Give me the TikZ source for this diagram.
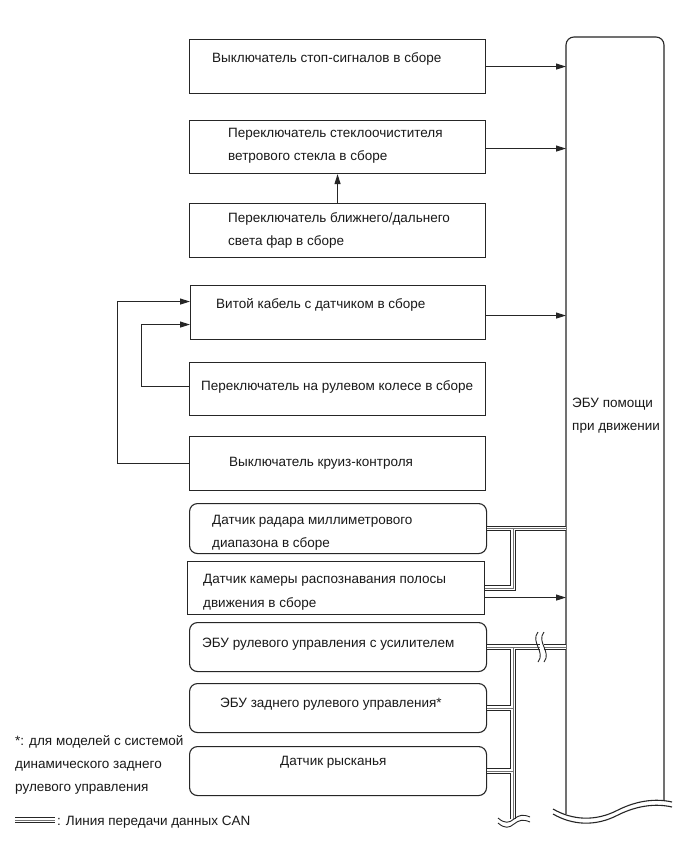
\documentclass[tikz,border=0pt]{standalone}
\usepackage{fontspec}
\setmainfont{Liberation Sans}
\usetikzlibrary{arrows.meta,calc}
\newcommand\canlayer[1]{%
  \draw[#1] (b7.east) -- (b7.east -| ecu.west)
    (b8.east) -- (b8.east -| bus) -- (b7.east -| bus)
    (b9.east) -- (b9.east -| ecu.west)
    (b9.east -| bus) -- (busend)
    (b10.east) -- (b10.east -| bus)
    (b11.east) -- (b11.east -| bus)
    (leg1) -- (leg2);}
\begin{document}
\begin{tikzpicture}[x=1pt,y=-1pt,
  box/.style={draw=black!85, line width=1.1pt, minimum width=296pt, minimum height=54pt, inner sep=0pt, anchor=north west},
  rbox/.style={box, rounded corners=8pt},
  lbl/.style={anchor=base west, inner sep=0pt, text=black!90, font=\fontsize{13.5}{16}\selectfont},
  arr/.style={draw=black!85, line width=1pt, -{Triangle[length=10pt,width=6pt]}},
  wave/.style={draw=black!85, line width=1.1pt}]
\useasboundingbox[fill=white] (0,0) rectangle (691,854);

% boxes
\node[box] (b1) at (189,39) {};
\node[box, minimum height=53pt] (b2) at (189,120) {};
\node[box] (b3) at (189,203) {};
\node[box, minimum width=295pt] (b4) at (190,285) {};
\node[box, minimum height=53pt] (b5) at (189,362) {};
\node[box] (b6) at (189,436) {};
\node[rbox, minimum width=297pt, minimum height=50pt] (b7) at (189,503) {};
\node[box, minimum width=297pt, minimum height=53pt] (b8) at (187,561) {};
\node[rbox, minimum width=297pt, minimum height=49pt] (b9) at (189,622) {};
\node[rbox, minimum width=297pt, minimum height=49pt] (b10) at (189,683) {};
\node[rbox, minimum width=297pt, minimum height=49pt] (b11) at (189,746) {};

% ECU
\node[anchor=north west, minimum width=98pt, minimum height=777pt, inner sep=0pt] (ecu) at (566,37) {};
\draw[wave, rounded corners=8pt] (566,814) -- (566,37) -- (664,37) -- (664,800);
\draw[wave] (553,809) .. controls (572,820) and (595,822) .. (618,810) .. controls (636,801) and (655,798) .. (672,802);
\draw[wave] (553,814) .. controls (572,825) and (595,827) .. (618,815) .. controls (636,806) and (655,803) .. (672,807);

% texts
\node[lbl] (t1) at (212,62) {Выключатель стоп-сигналов в сборе};
\node[lbl] (t2a) at (228,137) {Переключатель стеклоочистителя};
\node[lbl] (t2b) at (228,160) {ветрового стекла в сборе};
\node[lbl] (t3a) at (228,222) {Переключатель ближнего/дальнего};
\node[lbl] (t3b) at (228,245) {света фар в сборе};
\node[lbl] (t4) at (216,308) {Витой кабель с датчиком в сборе};
\node[lbl] (t5) at (201,390) {Переключатель на рулевом колесе в сборе};
\node[lbl] (t6) at (229,466) {Выключатель круиз-контроля};
\node[lbl] (t7a) at (212,524) {Датчик радара миллиметрового};
\node[lbl] (t7b) at (212,547) {диапазона в сборе};
\node[lbl] (t8a) at (203,583) {Датчик камеры распознавания полосы};
\node[lbl] (t8b) at (203,607) {движения в сборе};
\node[lbl] (t9) at (202,647) {ЭБУ рулевого управления с усилителем};
\node[lbl] (t10) at (220,707) {ЭБУ заднего рулевого управления*};
\node[lbl] (t11) at (280,765) {Датчик рысканья};
\node[lbl] (te1) at (572,407) {ЭБУ помощи};
\node[lbl] (te2) at (572,430) {при движении};
\node[lbl] (n1) at (15,745) {*: для моделей с системой};
\node[lbl] (n2) at (15,768) {динамического заднего};
\node[lbl] (n3) at (15,791) {рулевого управления};
\node[lbl] (n4) at (57,825) {: Линия передачи данных CAN};

% arrows
\draw[arr] (b1.east) -- (b1.east -| ecu.west);
\draw[arr] ([yshift=-1.5pt]b2.east) -- ([yshift=-1.5pt]b2.east -| ecu.west);
\draw[arr] (b3.north) -- (b2.south);
\draw[arr] ([yshift=-3pt]b4.east) -- ([yshift=-3pt]b4.east -| ecu.west);
\draw[arr] (b6.west) -- ++(-72,0) |- ([yshift=11pt]b4.west);
\draw[arr] ([yshift=3pt]b5.west) -- ++(-48,0) |- ([yshift=-12pt]b4.west);
\draw[arr] ([yshift=-9.5pt]b8.east) -- ([yshift=-9.5pt]b8.east -| ecu.west);

% CAN bus
\coordinate (bus) at (513,0);
\coordinate (busend) at (513,819);
\coordinate (leg1) at (15,820);
\coordinate (leg2) at (55,820);
\canlayer{line width=5.6pt, black!85}
\canlayer{line width=3.6pt, white}
\canlayer{line width=0.9pt, black!55}

% break on CAN line
\fill[white] (539.5,640) rectangle (543.5,651);
\draw[wave, line width=0.9pt] (538,632) .. controls (530,642) and (546,652) .. (538,662);
\draw[wave, line width=0.9pt] (544,632) .. controls (536,642) and (552,652) .. (544,662);

% bus end
\fill[white] (505,819) rectangle (521,830);
\draw[wave, line width=0.9pt] (498,818) .. controls (505,824) and (509,823) .. (514,819) .. controls (519,815) and (523,814) .. (530,817);
\draw[wave, line width=0.9pt] (498,823) .. controls (505,829) and (509,828) .. (514,824) .. controls (519,820) and (523,819) .. (530,822);
\end{tikzpicture}
\end{document}
